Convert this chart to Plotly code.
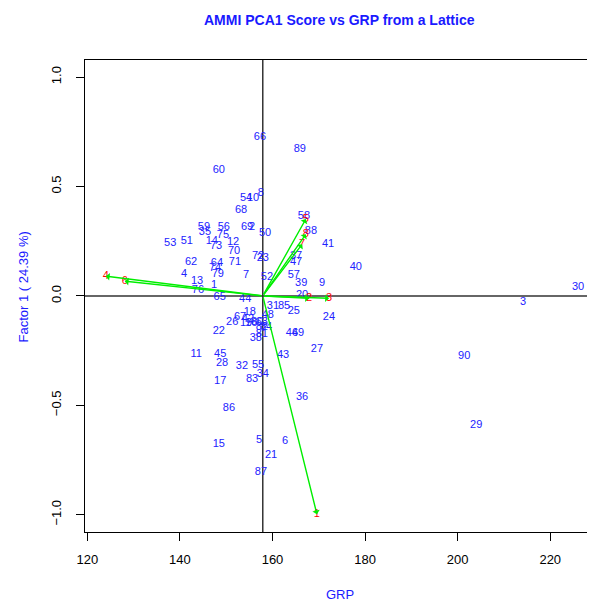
import plotly.graph_objects as go

# ---- Genotype scores (GRP, PCA1) ----
geno_labels = ["1","2","3","4","5","6","7","8","9","10","11","12","13","14","15","16","17","18","19","20",
               "21","22","23","24","25","26","27","28","29","30","31","32","34","35","36","37","38","39","40",
               "41","42","43","44","45","46","47","48","49","50","51","52","53","54","55","56","57","58","59",
               "60","62","63","64","65","66","67","68","69","70","71","72","73","74","75","76","79","80","81",
               "82","83","84","85","86","87","88","89","90"]
geno_grp = [147.4,155.6,214.1,140.9,157.1,162.7,154.3,157.5,170.7,155.8,143.5,151.5,143.7,146.9,148.4,155.4,148.7,155.1,154.3,166.4,
            159.7,148.4,157.9,172.2,164.6,151.3,169.6,149.1,204.0,226.0,160.1,153.4,157.9,145.4,166.4,165.1,156.4,166.2,178.0,
            172.0,154.7,162.3,154.1,148.7,164.2,165.1,159.0,165.5,158.4,141.5,158.8,137.9,154.3,156.9,149.5,164.6,166.8,145.2,
            148.4,142.4,157.7,148.0,148.6,157.3,153.0,153.2,154.5,151.7,151.9,156.9,147.8,147.6,149.3,143.9,148.2,156.7,157.7,
            157.7,155.6,158.6,162.5,150.6,157.5,168.3,165.9,201.4]
geno_pc1 = [0.049,0.314,-0.029,0.099,-0.660,-0.664,0.095,0.470,0.058,0.447,-0.267,0.246,0.067,0.250,-0.678,-0.125,-0.390,-0.075,-0.125,0.003,
            -0.728,-0.161,0.172,-0.097,-0.070,-0.120,-0.244,-0.308,-0.591,0.040,-0.047,-0.321,-0.358,0.291,-0.463,0.182,-0.193,0.058,0.131,
            0.236,-0.107,-0.271,-0.015,-0.267,-0.171,0.154,-0.088,-0.171,0.287,0.250,0.086,0.241,0.447,-0.317,0.314,0.095,0.364,0.314,
            0.575,0.154,-0.120,0.150,-0.006,0.726,-0.097,0.392,0.314,0.204,0.154,0.182,0.227,0.127,0.278,0.026,0.099,-0.120,-0.175,
            -0.143,-0.381,-0.143,-0.047,-0.514,-0.806,0.296,0.671,-0.276]

# ---- Environment vectors (tips) ----
env_labels = ["1","2","3","4","5","6","7","8"]
env_grp = [169.6,167.9,172.2,124.0,167.2,128.1,166.4,167.2]
env_pc1 = [-0.998,-0.011,-0.011,0.090,0.351,0.067,0.236,0.282]

grp_mean = 157.9

FONT = "Liberation Sans, Arial"

fig = go.Figure()

annotations = []
for ex, ey in zip(env_grp, env_pc1):
    annotations.append(dict(x=ex, y=ey, ax=grp_mean, ay=0, xref="x", yref="y", axref="x", ayref="y",
                            showarrow=True, arrowhead=1, arrowsize=0.9, arrowwidth=1.4,
                            arrowcolor="#00ee00", text=""))

fig.add_trace(go.Scatter(x=geno_grp, y=geno_pc1, mode="text", text=geno_labels,
                         textposition="middle center",
                         textfont=dict(family=FONT, size=11, color="#2222ff"),
                         hoverinfo="skip", showlegend=False))
fig.add_trace(go.Scatter(x=env_grp, y=env_pc1, mode="text", text=env_labels,
                         textposition="middle center",
                         textfont=dict(family=FONT, size=11, color="#ff0000"),
                         hoverinfo="skip", showlegend=False))

fig.add_shape(type="line", xref="x", yref="paper", x0=grp_mean, x1=grp_mean, y0=0, y1=1,
              line=dict(color="#333333", width=1.5), layer="below")
fig.add_shape(type="line", xref="paper", yref="y", x0=0, x1=1, y0=0, y1=0,
              line=dict(color="#333333", width=1.5), layer="below")

annotations += [
    dict(text="<b>AMMI PCA1 Score vs GRP from a Lattice</b>", xref="paper", yref="paper",
         x=0.5, y=1.085, showarrow=False, xanchor="center", yanchor="middle",
         font=dict(family=FONT, size=14, color="#1a1aff")),
    dict(text="GRP", xref="paper", yref="paper", x=0.5, y=-0.133, showarrow=False,
         xanchor="center", yanchor="middle",
         font=dict(family=FONT, size=13, color="#1a1aff")),
    dict(text="Factor 1 ( 24.39 %)", xref="paper", yref="paper", x=-0.12, y=0.52, showarrow=False,
         xanchor="center", yanchor="middle", textangle=-90,
         font=dict(family=FONT, size=13, color="#1a1aff")),
]

# The page body has an 8px margin, so the figure is 8px smaller than the window
fig.update_layout(
    width=587, height=595,
    margin=dict(l=77, r=1, t=52, b=71),
    paper_bgcolor="white", plot_bgcolor="white",
    annotations=annotations,
    font=dict(family=FONT, size=13, color="black"),
)
fig.update_xaxes(range=[119.5, 229.45], tickvals=[120, 140, 160, 180, 200, 220],
                 showgrid=False, zeroline=False, showline=True, mirror=True,
                 linecolor="black", linewidth=1, ticks="outside", ticklen=8, tickcolor="black",
                 ticklabelstandoff=7,
                 tickfont=dict(size=13, color="black"))
fig.update_yaxes(range=[-1.079, 1.078], tickvals=[-1, -0.5, 0, 0.5, 1],
                 ticktext=["\u22121.0", "\u22120.5", "0.0", "0.5", "1.0"], tickangle=-90,
                 showgrid=False, zeroline=False, showline=True, mirror=True,
                 linecolor="black", linewidth=1, ticks="outside", ticklen=8, tickcolor="black",
                 ticklabelstandoff=10,
                 tickfont=dict(size=13, color="black"))

fig.write_html("out.html")
